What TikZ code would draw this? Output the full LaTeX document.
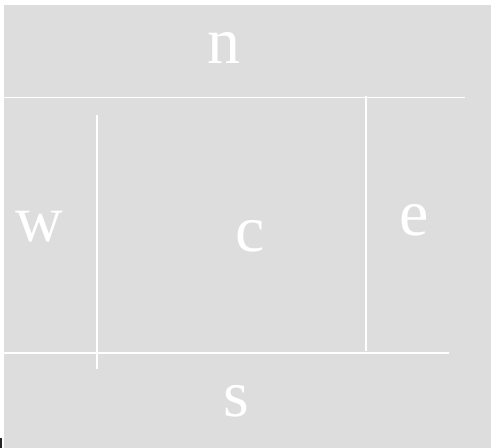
\documentclass[tikz,border=0pt]{standalone}
\usepackage{fontspec}
\setmainfont{Liberation Serif}
\definecolor{panel}{HTML}{DDDDDD}
\begin{document}
\begin{tikzpicture}[x=1pt,y=-1pt,
  lbl/.style={text=white,inner sep=0pt,anchor=base,font=\fontsize{66}{66}\selectfont},
  sep/.style={draw=white,line width=1.8pt}]
\useasboundingbox (0,0) rectangle (491,448);
\fill[white] (0,0) rectangle (491,448);
\fill[panel] (4,5) rectangle (491,448);
\fill[black!85] (0,438) rectangle (2,448);
\draw[sep] (4,97.5) -- (465,97.5);
\draw[sep] (366,96) -- (366,351);
\draw[sep] (4,353) -- (449,353);
\draw[sep] (97,115) -- (97,369);
\node[lbl] (n) at (224,63) {n};
\node[lbl] (w) at (39.5,241) {w};
\node[lbl] (c) at (250.5,251) {c};
\node[lbl] (e) at (414,235) {e};
\node[lbl] (s) at (236.5,416) {s};
\end{tikzpicture}
\end{document}
